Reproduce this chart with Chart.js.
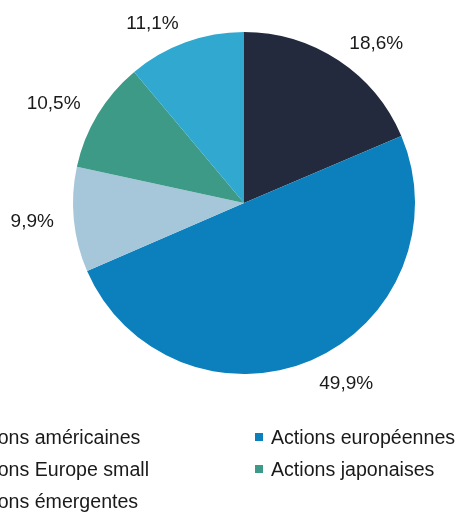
<!DOCTYPE html>
<html>
<head>
<meta charset="utf-8">
<script src="https://cdn.jsdelivr.net/npm/chart.js@4"></script>
<style>
  html, body { margin: 0; padding: 0; background: #fff; overflow: hidden; }
  #wrap { position: relative; width: 468px; height: 513px; }
  #pie { position: absolute; left: 0; top: 0; }
  .leg { position: absolute; font-family: "Liberation Sans", Arial, sans-serif; font-size: 19.6px; color: #1a1a1a; white-space: nowrap; line-height: 20px; }
  .leg i { position: absolute; width: 8px; height: 8px; top: 6px; }
</style>
</head>
<body>
<div id="wrap">
  <canvas id="pie" width="468" height="513"></canvas>
</div>
<script>
const labels = [
  "Actions américaines",
  "Actions européennes",
  "Actions Europe small",
  "Actions japonaises",
  "Actions émergentes"
];
const shares = [18.6, 49.9, 9.9, 10.5, 11.1];
const colors = ["#232a3d", "#0b80bd", "#a6c6da", "#3d9a86", "#31a8cf"];

const fontFamily = '"Liberation Sans", Arial, sans-serif';

function fmt(v) {
  return v.toFixed(1).replace(".", ",") + "%";
}

// outside-end labels, excel style
const outsideLabels = {
  id: "outsideLabels",
  afterDatasetsDraw(chart) {
    const ctx = chart.ctx;
    const meta = chart.getDatasetMeta(0);
    ctx.save();
    ctx.font = "19px " + fontFamily;
    ctx.fillStyle = "#1a1a1a";
    ctx.textBaseline = "middle";
    meta.data.forEach((arc, i) => {
      const p = arc.getProps(["x", "y", "startAngle", "endAngle", "outerRadius"], true);
      const a = (p.startAngle + p.endAngle) / 2;
      const r = p.outerRadius + 20;
      const c = Math.cos(a), s = Math.sin(a);
      const cx = p.x + c * r;
      const cy = p.y + s * r + (s > 0 ? s * 6 : 0);
      ctx.textAlign = c > 0.15 ? "left" : c < -0.15 ? "right" : "center";
      ctx.fillText(fmt(shares[i]), cx, cy);
    });
    ctx.restore();
  }
};

const chart = new Chart(document.getElementById("pie"), {
  type: "pie",
  data: {
    labels,
    datasets: [{
      data: shares,
      backgroundColor: colors,
      borderWidth: 0
    }]
  },
  options: {
    responsive: false,
    animation: false,
    layout: { padding: { top: 32, bottom: 139, left: 73, right: 53 } },
    plugins: {
      legend: { display: false },
      tooltip: { enabled: false }
    }
  },
  plugins: [outsideLabels]
});

// two-column legend below the pie, left column runs off the page edge
function initLegend() {
  const wrap = document.getElementById("wrap");
  const colX = [-35, 271];
  const rowY = [427, 459, 491];
  labels.forEach((name, i) => {
    const col = i % 2;
    const row = Math.floor(i / 2);
    const el = document.createElement("div");
    el.className = "leg";
    el.style.left = colX[col] + "px";
    el.style.top = rowY[row] + "px";
    el.textContent = name;
    const sw = document.createElement("i");
    sw.style.background = chart.data.datasets[0].backgroundColor[i];
    sw.style.left = "-16px";
    el.appendChild(sw);
    wrap.appendChild(el);
  });
}

initLegend();
</script>
</body>
</html>
